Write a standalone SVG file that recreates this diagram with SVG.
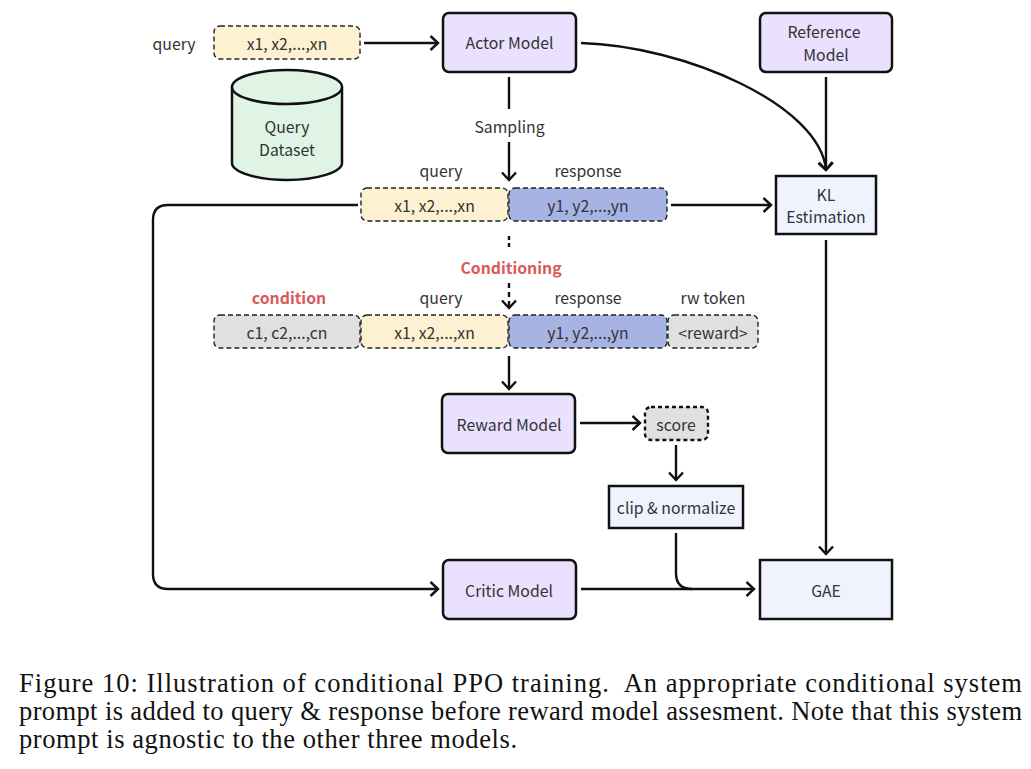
<svg xmlns="http://www.w3.org/2000/svg" width="1031" height="769" viewBox="0 0 1031 769">
<style>
text{font-family:"Noto Sans CJK SC","Noto Sans",sans-serif;font-size:15.8px;fill:#333;text-anchor:middle}
.red{fill:#d9595c;font-weight:700}
text.cap{font-family:"Liberation Serif",serif;font-size:26.5px;fill:#111;text-anchor:start}
.model{fill:#e9e1fd;stroke:#111;stroke-width:2.5}
.calc{fill:#eff3fd;stroke:#111;stroke-width:2.5}
.q{fill:#fdf1d1;stroke:#222;stroke-width:1.4;stroke-dasharray:5 3}
.r{fill:#a7b4e3;stroke:#222;stroke-width:1.4;stroke-dasharray:5 3}
.g{fill:#e0e0e0;stroke:#222;stroke-width:1.4;stroke-dasharray:5 3}
.c{fill:none;stroke:#111;stroke-width:2.4}
.a{marker-end:url(#arr)}
</style>
<defs>
<marker id="arr" viewBox="0 0 14 16" refX="12.5" refY="8" markerWidth="14" markerHeight="16" markerUnits="userSpaceOnUse" orient="auto">
<path d="M5 1 L12.5 8 L5 15" fill="none" stroke="#111" stroke-width="2.4"/>
</marker>
</defs>
<g id="connectors">
<path class="c a" d="M364 43H438"/>
<path class="c" d="M509 77V109"/>
<path class="c a" d="M509 142V180"/>
<path class="c a" d="M358 205H168Q153 205 153 220V574Q153 589 168 589H438"/>
<path class="c a" d="M671 205H771"/>
<path class="c a" d="M581 43C685 46 820 105 826 170"/>
<path class="c a" d="M826 77V170"/>
<path class="c a" d="M826 240V554"/>
<path class="c" d="M509 236V250" stroke-dasharray="4 3"/>
<path class="c a" d="M509 283V308" stroke-dasharray="5 4"/>
<path class="c a" d="M509 356V389"/>
<path class="c a" d="M580 423H640"/>
<path class="c a" d="M676 445V480"/>
<path class="c" d="M676 533V573Q676 589 692 589"/>
<path class="c a" d="M581 589H754"/>
</g>
<g id="query-label"><text x="174" y="50">query</text></g>
<g id="input-query"><rect class="q" x="214" y="26" width="146" height="33" rx="6"/><text x="287" y="50">x1, x2,...,xn</text></g>
<g id="actor-model"><rect class="model" x="443" y="13" width="133" height="59" rx="6"/><text x="509.5" y="49">Actor Model</text></g>
<g id="reference-model"><rect class="model" x="760" y="13" width="132" height="59" rx="6"/><text x="824" y="38">Reference</text><text x="826" y="61">Model</text></g>
<g id="query-dataset">
<path d="M232 87V163C232 172 257 180 287 180S342 172 342 163V87" fill="#dff4e5" stroke="#111" stroke-width="2.5"/>
<ellipse cx="287" cy="87" rx="55" ry="17" fill="#dff4e5" stroke="#111" stroke-width="2.5"/>
<text x="287" y="133">Query</text><text x="287" y="156">Dataset</text>
</g>
<g id="sampling-label"><text x="509.5" y="133">Sampling</text></g>
<g id="row2-labels"><text x="441" y="177">query</text><text x="588" y="177">response</text></g>
<g id="row2-query"><rect class="q" x="361" y="188" width="147" height="33" rx="6"/><text x="434.5" y="212">x1, x2,...,xn</text></g>
<g id="row2-response"><rect class="r" x="509" y="188" width="158" height="33" rx="6"/><text x="588" y="212">y1, y2,...,yn</text></g>
<g id="kl-estimation"><rect class="calc" x="776" y="176" width="100" height="58"/><text x="826" y="201">KL</text><text x="826" y="223">Estimation</text></g>
<g id="conditioning-label"><text class="red" x="511" y="274">Conditioning</text></g>
<g id="row3-labels"><text class="red" x="289" y="304">condition</text><text x="441" y="304">query</text><text x="588" y="304">response</text><text x="713" y="304">rw token</text></g>
<g id="row3-condition"><rect class="g" x="214" y="315" width="146" height="33" rx="6"/><text x="287" y="339">c1, c2,...,cn</text></g>
<g id="row3-query"><rect class="q" x="361" y="315" width="147" height="33" rx="6"/><text x="434.5" y="339">x1, x2,...,xn</text></g>
<g id="row3-response"><rect class="r" x="509" y="315" width="158" height="33" rx="6"/><text x="588" y="339">y1, y2,...,yn</text></g>
<g id="row3-reward"><rect class="g" x="668" y="315" width="90" height="33" rx="6"/><text x="713" y="339">&lt;reward&gt;</text></g>
<g id="reward-model"><rect class="model" x="442" y="394" width="133" height="59" rx="6"/><text x="509" y="431">Reward Model</text></g>
<g id="score"><rect x="645" y="407" width="63" height="33" rx="6" fill="#e0e0e0" stroke="#111" stroke-width="2.4" stroke-dasharray="4 3"/><text x="676" y="431">score</text></g>
<g id="clip-normalize"><rect class="calc" x="609" y="486" width="134" height="42"/><text x="676" y="514">clip &amp; normalize</text></g>
<g id="critic-model"><rect class="model" x="443" y="560" width="133" height="59" rx="6"/><text x="509" y="597">Critic Model</text></g>
<g id="gae"><rect class="calc" x="760" y="560" width="132" height="59"/><text x="826" y="597">GAE</text></g>
<g id="caption">
<text class="cap" x="19" y="692" textLength="1003" lengthAdjust="spacing" xml:space="preserve">Figure 10: Illustration of conditional PPO training.  An appropriate conditional system</text>
<text class="cap" x="19" y="720" textLength="1003" lengthAdjust="spacing">prompt is added to query &amp; response before reward model assesment. Note that this system</text>
<text class="cap" x="19" y="748" textLength="498" lengthAdjust="spacing">prompt is agnostic to the other three models.</text>
</g>
</svg>
